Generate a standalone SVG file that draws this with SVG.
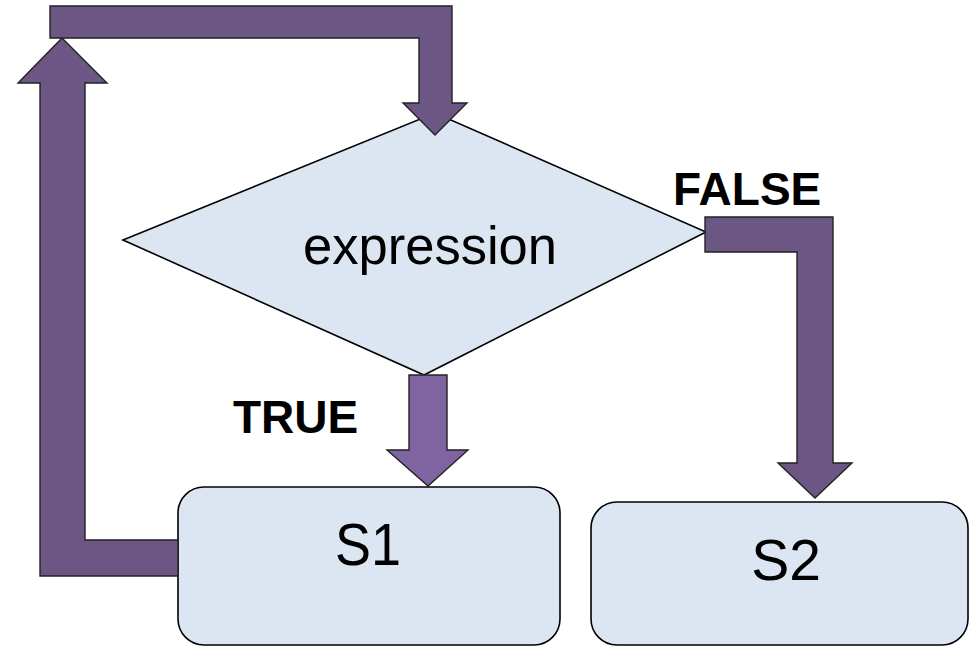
<svg xmlns="http://www.w3.org/2000/svg" width="970" height="647" viewBox="0 0 970 647">
<style>
.node{fill:#dce6f2;stroke:#000;stroke-width:1.6}
.arr{fill:#6c5784;stroke:#222;stroke-width:1.4;stroke-linejoin:miter}
.arr2{fill:#8064a2;stroke:#222;stroke-width:1.4}
.t{font-family:"Liberation Sans",Arial,sans-serif;fill:#000;text-anchor:middle}
.b{font-family:"Liberation Sans",Arial,sans-serif;font-weight:bold;fill:#000}
</style>
<rect width="970" height="647" fill="#fff"/>
<g id="decision">
<polygon class="node" points="123,240 435,113 706,232 424,375"/>
<text class="t" x="430" y="264" font-size="54" textLength="254" lengthAdjust="spacingAndGlyphs">expression</text>
</g>
<g id="s1">
<rect class="node" x="178" y="487" width="382" height="158" rx="26"/>
<text class="t" x="368" y="565" font-size="59" textLength="66" lengthAdjust="spacingAndGlyphs">S1</text>
</g>
<g id="s2">
<rect class="node" x="591" y="502" width="377" height="143" rx="26"/>
<text class="t" x="786" y="580" font-size="57">S2</text>
</g>
<g id="connectors">
<polygon class="arr" points="178,540 85,540 85,83 107,83 62,38 18,83 40,83 40,576 178,576"/>
<polygon class="arr" points="50,6 452,6 452,103 467,103 435,135 403,103 419,103 419,38 50,38"/>
<polygon class="arr" points="705,217 833,217 833,463 852,463 815,498 778,463 797,463 797,252 705,252"/>
<polygon class="arr2" points="409,375 447,375 447,450 468,450 428,486 387,450 409,450"/>
<text class="b" x="233" y="433" font-size="46">TRUE</text>
<text class="b" x="673" y="205" font-size="46">FALSE</text>
</g>
</svg>
